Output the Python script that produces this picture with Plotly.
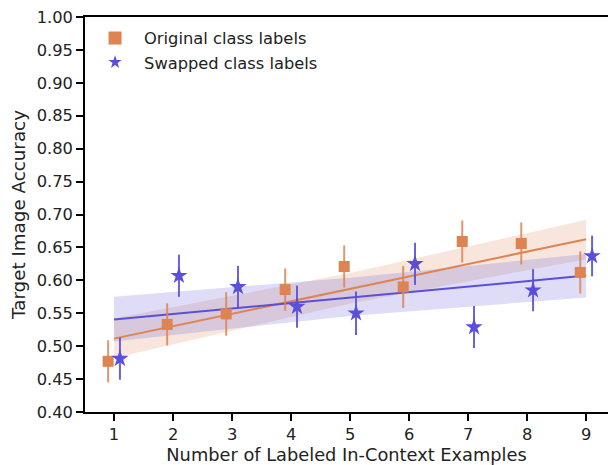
import numpy as np
import plotly.graph_objects as go

# Data
k_examples = [1, 2, 3, 4, 5, 6, 7, 8, 9]
orig_acc = [0.477, 0.533, 0.549, 0.586, 0.621, 0.590, 0.659, 0.656, 0.612]
orig_err = [0.032, 0.032, 0.033, 0.032, 0.032, 0.032, 0.032, 0.032, 0.032]
swap_acc = [0.481, 0.607, 0.590, 0.560, 0.550, 0.625, 0.529, 0.585, 0.637]
swap_err = [0.032, 0.032, 0.032, 0.032, 0.033, 0.032, 0.032, 0.032, 0.031]

# Confidence bands at these x positions
band_x = [1, 5, 9]
orig_band_lo = [0.482, 0.565, 0.632]
orig_band_hi = [0.542, 0.611, 0.692]
swap_band_lo = [0.507, 0.546, 0.574]
swap_band_hi = [0.575, 0.604, 0.640]

y_ticks = [0.40, 0.45, 0.50, 0.55, 0.60, 0.65, 0.70, 0.75, 0.80, 0.85, 0.90, 0.95, 1.00]

ORANGE = "#DD8452"
BLUE = "#5B4FD9"

def rgba(hexc, a):
    h = hexc.lstrip("#")
    r, g, b = int(h[0:2], 16), int(h[2:4], 16), int(h[4:6], 16)
    return f"rgba({r},{g},{b},{a})"

x = np.array(k_examples, dtype=float)
fig = go.Figure()

# bands
for lo, hi, col in [(orig_band_lo, orig_band_hi, ORANGE), (swap_band_lo, swap_band_hi, BLUE)]:
    fig.add_trace(go.Scatter(
        x=list(band_x) + list(band_x)[::-1],
        y=list(hi) + list(lo)[::-1],
        fill="toself", fillcolor=rgba(col, 0.2), line=dict(width=0),
        mode="lines", showlegend=False, hoverinfo="skip"))

# regression lines
for vals, col in [(orig_acc, ORANGE), (swap_acc, BLUE)]:
    m, c = np.polyfit(x, np.array(vals), 1)
    xl = np.array([x.min(), x.max()])
    fig.add_trace(go.Scatter(x=xl, y=m * xl + c, mode="lines",
                             line=dict(color=col, width=2), showlegend=False))

# points
fig.add_trace(go.Scatter(
    x=x - 0.1, y=orig_acc, mode="markers", name="Original class labels", showlegend=False,
    marker=dict(symbol="square", size=11, color=ORANGE),
    error_y=dict(type="data", array=orig_err, width=0, thickness=2, color=rgba(ORANGE, 0.85))))
fig.add_trace(go.Scatter(
    x=x + 0.1, y=swap_acc, mode="markers", name="Swapped class labels", showlegend=False,
    marker=dict(symbol="star", size=13, color=BLUE),
    error_y=dict(type="data", array=swap_err, width=0, thickness=2, color=rgba(BLUE, 0.9))))

# legend entries (marker sizes as in the reference legend)
fig.add_trace(go.Scatter(x=[None], y=[None], mode="markers", name="Original class labels",
                         marker=dict(symbol="square", size=13, color=ORANGE)))
fig.add_trace(go.Scatter(x=[None], y=[None], mode="markers", name="Swapped class labels",
                         marker=dict(symbol="star", size=10, color=BLUE)))

axis_common = dict(showline=True, linecolor="black", linewidth=1.5, ticks="outside",
                   ticklen=7, tickwidth=1.5, tickcolor="black", showgrid=False,
                   zeroline=False, tickfont=dict(size=16.3, color="#222"), automargin=False)

fig.update_layout(
    width=608, height=465,
    margin=dict(l=85, r=0, t=17, b=53),
    paper_bgcolor="white", plot_bgcolor="white",
    font=dict(family="DejaVu Sans", color="#222"),
    legend=dict(x=0.002, y=0.99, xanchor="left", yanchor="top",
                font=dict(size=16.3), bgcolor="rgba(0,0,0,0)", itemwidth=48,
                tracegroupgap=0),
)
fig.update_xaxes(range=[0.508, 9.37], tickvals=k_examples, mirror=True,
                 title=dict(text="Number of Labeled In-Context Examples", font=dict(size=17.8), standoff=3),
                 **axis_common)
fig.update_yaxes(range=[0.40, 1.00], tickvals=y_ticks, tickformat=".2f",
                 title=dict(text="Target Image Accuracy", font=dict(size=18.3), standoff=6),
                 **axis_common)

fig.write_html("out.html", config={"displayModeBar": False},
               post_script="document.body.style.margin='0';document.body.style.overflow='hidden';")
